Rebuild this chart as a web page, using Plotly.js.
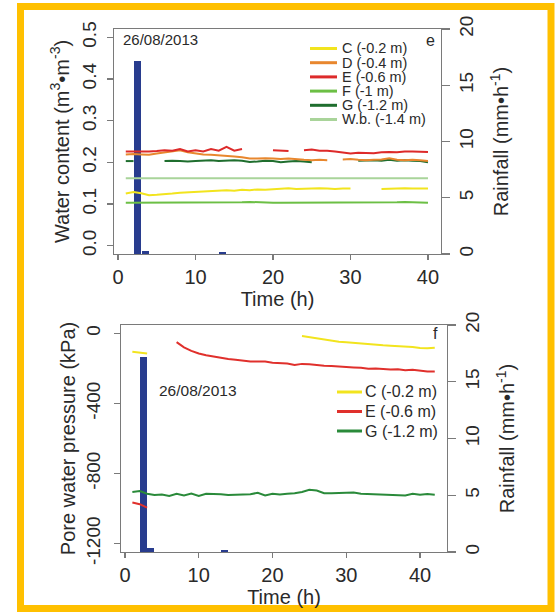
<!DOCTYPE html>
<html>
<head>
<meta charset="utf-8">
<script src="https://cdn.plot.ly/plotly-3.0.1.min.js"></script>
<style>
html,body{margin:0;padding:0;background:#fff;}
#chart{width:555px;height:612px;}
</style>
</head>
<body>
<div id="chart"></div>
<script>
// ---------- DATA ----------
const timeTop = [1,2,3,4,5,6,7,8,9,10,11,12,13,14,15,16,17,18,19,20,21,22,23,24,25,26,27,28,29,30,31,32,33,34,35,36,37,38,39,40];
const wcC = [0.125,0.129,0.126,0.121,0.122,0.123,0.125,0.127,0.128,0.129,0.130,0.130,0.131,0.133,0.132,0.134,0.133,0.135,0.134,0.135,0.136,0.138,0.136,0.137,0.137,0.138,0.137,0.136,0.137,0.137,null,null,null,0.136,0.137,0.137,0.138,0.137,0.137,0.137];
const wcD = [0.219,0.220,0.219,0.218,0.221,0.224,0.227,0.229,0.224,0.221,0.219,0.218,0.217,0.216,0.214,0.212,0.209,0.209,0.210,0.209,0.208,0.209,0.207,0.206,0.205,0.206,0.205,null,0.207,0.208,0.206,0.205,0.206,0.207,0.210,0.206,0.205,0.206,0.205,0.203];
const wcE = [0.226,0.226,0.225,0.226,0.227,0.229,0.228,0.232,0.226,0.229,0.226,0.232,0.228,0.237,0.228,0.232,null,null,null,0.229,0.228,0.227,null,0.229,0.231,0.228,0.228,0.226,0.224,0.221,0.223,0.222,0.222,0.224,0.225,0.224,0.226,0.226,0.226,0.225];
const wcF = [0.103,0.103,0.103,0.103,0.103,0.103,0.103,0.103,0.103,0.103,0.103,0.103,0.103,0.103,0.103,0.104,0.105,0.104,0.103,0.103,0.103,0.103,0.103,0.103,0.103,0.103,0.103,0.103,0.103,0.103,0.103,0.103,0.103,0.103,0.104,0.104,0.105,0.104,0.103,0.103];
const wcG = [0.203,0.203,null,null,null,0.203,0.204,0.203,0.202,0.203,0.204,0.205,0.203,0.204,0.205,0.204,0.201,0.202,0.204,0.203,0.200,0.202,0.203,0.202,0.200,null,null,null,null,null,0.204,0.205,0.205,0.204,0.206,0.204,0.205,0.204,0.203,0.200];
const wcWb = [0.162,0.162,0.162,0.162,0.162,0.162,0.162,0.162,0.162,0.162,0.162,0.162,0.162,0.162,0.162,0.162,0.162,0.162,0.162,0.162,0.162,0.162,0.162,0.162,0.162,0.162,0.162,0.162,0.162,0.162,0.162,0.162,0.162,0.162,0.162,0.162,0.162,0.162,0.162,0.162];

const timeBottom = [1,2,3,4,5,6,7,8,9,10,11,12,13,14,15,16,17,18,19,20,21,22,23,24,25,26,27,28,29,30,31,32,33,34,35,36,37,38,39,40,41,42];
const pwpC = [-105,-108,-115,null,null,null,null,null,null,null,null,null,null,null,null,null,null,null,null,null,null,null,null,-15,-22,-28,-36,-42,-47,-51,-55,-59,-62,-65,-68,-70,-72,-74,-77,-83,-85,-82];
const pwpE = [-965,-975,-995,null,null,null,-50,-80,-100,-115,-125,-133,-140,-146,-150,-157,-160,-160,-161,-167,-170,-172,-180,-174,-176,-182,-184,-186,-190,-192,-194,-196,-202,-200,-204,-206,-205,-210,-208,-215,-218,-217];
const pwpG = [-905,-900,-915,-922,-920,-928,-915,-925,-914,-928,-915,-915,-918,-922,-920,-917,-918,-910,-925,-915,-920,-916,-913,-905,-893,-897,-912,-913,-912,-914,-909,-915,-916,-920,-921,-923,-920,-925,-915,-921,-917,-921];

const rainTime = [2.5, 3.5, 13.5];
const rainTop = [17.2, 0.3, 0.15];
const rainBottom = [17.2, 0.35, 0.15];

const topNames = ['C (-0.2 m)','D (-0.4 m)','E (-0.6 m)','F (-1 m)','G (-1.2 m)','W.b. (-1.4 m)'];
const bottomNames = ['C (-0.2 m)','E (-0.6 m)','G (-1.2 m)'];
const wcTickVals = [0,0.1,0.2,0.3,0.4,0.5];
const pwpTickVals = [0,-400,-800,-1200];
const pwpTickText = ['0','-400','-800','-1200'];
const rainTickVals = [0,5,10,15,20];
const timeTickVals = [0,10,20,30,40];
const dateLabel = '26/08/2013';

// ---------- STYLE ----------
const W = 555, H = 612;
const px = v => v / W;
const py = v => 1 - v / H;
const topColors = ['#F2E41E','#E8872E','#DD2A2A','#6CBF45','#1F6E2E','#A9D49A'];
const bottomColors = ['#F2E41E','#E0302C','#2A8A3A'];
const barColor = '#283C8E';
const axisCol = '#7a7a7a';
const txtCol = '#2a2a2a';
const FONT = 'Liberation Sans, Arial, sans-serif';

const topSeries = [wcC, wcD, wcE, wcF, wcG, wcWb];
const bottomSeries = [pwpC, pwpE, pwpG];

const traces = [];
traces.push({type:'bar', x:rainTime, y:rainTop, width:0.9, marker:{color:barColor, line:{width:0}}, xaxis:'x', yaxis:'y', showlegend:false, hoverinfo:'skip'});
const topOrder = [5,3,0,4,1,2];
topOrder.forEach(i => traces.push({type:'scatter', mode:'lines', x:timeTop, y:topSeries[i], name:topNames[i], line:{color:topColors[i], width:2}, connectgaps:false, xaxis:'x', yaxis:'y2', showlegend:false}));
traces.push({type:'bar', x:rainTime, y:rainBottom, width:0.9, marker:{color:barColor, line:{width:0}}, xaxis:'x2', yaxis:'y3', showlegend:false, hoverinfo:'skip'});
bottomSeries.forEach((s,i) => traces.push({type:'scatter', mode:'lines', x:timeBottom, y:s, name:bottomNames[i], line:{color:bottomColors[i], width:2}, connectgaps:false, xaxis:'x2', yaxis:'y4', showlegend:false}));

const tickFont = {family:FONT, size:19, color:txtCol};
const xTickFont = {family:FONT, size:20, color:txtCol};
const titleFont = {family:FONT, size:20, color:txtCol};
const common = {showgrid:false, zeroline:false, showline:true, linecolor:axisCol, linewidth:1.3, ticks:'outside', tickcolor:axisCol, tickwidth:1.3, tickfont:tickFont, fixedrange:true};

const shapes = [];
const annotations = [];
// frame
shapes.push({type:'rect', xref:'paper', yref:'paper', x0:px(20.5), x1:px(551), y0:py(608.5), y1:py(6.5), line:{color:'#FFC000', width:7}, fillcolor:'rgba(0,0,0,0)'});

// top legend
topNames.forEach((n,i) => {
  const y = 48.5 + i*14.2;
  shapes.push({type:'line', xref:'paper', yref:'paper', x0:px(310), x1:px(337), y0:py(y), y1:py(y), line:{color:topColors[i], width:3}});
  annotations.push({xref:'paper', yref:'paper', x:px(341), y:py(y), xanchor:'left', yanchor:'middle', text:n, showarrow:false, borderpad:0, font:{family:FONT, size:14.5, color:txtCol}});
});
// bottom legend
bottomNames.forEach((n,i) => {
  const y = 392 + i*19.5;
  shapes.push({type:'line', xref:'paper', yref:'paper', x0:px(337), x1:px(362), y0:py(y), y1:py(y), line:{color:bottomColors[i], width:3}});
  annotations.push({xref:'paper', yref:'paper', x:px(364), y:py(y), xanchor:'left', yanchor:'middle', text:n, showarrow:false, borderpad:0, font:{family:FONT, size:16, color:txtCol}});
});
annotations.push({xref:'paper', yref:'paper', x:px(160), y:py(40), xanchor:'center', yanchor:'middle', text:dateLabel, showarrow:false, font:{family:FONT, size:15, color:txtCol}});
annotations.push({xref:'paper', yref:'paper', x:px(198), y:py(391), xanchor:'center', yanchor:'middle', text:dateLabel, showarrow:false, font:{family:FONT, size:15.5, color:txtCol}});
annotations.push({xref:'paper', yref:'paper', x:px(430), y:py(41), xanchor:'center', yanchor:'middle', text:'e', showarrow:false, font:{family:FONT, size:16, color:txtCol}});
annotations.push({xref:'paper', yref:'paper', x:px(435), y:py(334), xanchor:'center', yanchor:'middle', text:'f', showarrow:false, font:{family:FONT, size:16, color:txtCol}});

const layout = {
  width:W, height:H,
  margin:{l:0, r:0, t:0, b:0, pad:0},
  paper_bgcolor:'#fff', plot_bgcolor:'rgba(0,0,0,0)',
  font:{family:FONT, color:txtCol},
  showlegend:false,
  bargap:0,
  xaxis: Object.assign({}, common, {domain:[px(114), px(441)], range:[-0.52, 41.68], anchor:'y', tickvals:timeTickVals, ticklen:5, mirror:true, tickfont:xTickFont, title:{text:'Time (h)', font:titleFont, standoff:2}}),
  yaxis: Object.assign({}, common, {domain:[py(254), py(29)], range:[0,20], side:'right', anchor:'x', tickvals:rainTickVals, ticklen:8, tickangle:-90, ticklabelstandoff:0, title:{text:'Rainfall (mm•h<sup>-1</sup>)', font:titleFont, standoff:18}}),
  yaxis2: Object.assign({}, common, {overlaying:'y', side:'left', anchor:'x', range:[-0.02, 0.52], tickvals:wcTickVals, tickformat:'.1f', ticklen:6, tickangle:-90, ticklabelstandoff:3, title:{text:'Water content (m<sup>3</sup>•m<sup>-3</sup>)', font:titleFont, standoff:4}}),
  xaxis2: Object.assign({}, common, {domain:[px(121), px(447)], range:[-0.54, 43.66], anchor:'y3', tickvals:timeTickVals, ticklen:5, mirror:true, tickfont:xTickFont, title:{text:'Time (h)', font:titleFont, standoff:3}}),
  yaxis3: Object.assign({}, common, {domain:[py(552), py(325)], range:[0,20], side:'right', anchor:'x2', tickvals:rainTickVals, ticklen:8, tickangle:-90, ticklabelstandoff:0, title:{text:'Rainfall (mm•h<sup>-1</sup>)', font:titleFont, standoff:18}}),
  yaxis4: Object.assign({}, common, {overlaying:'y3', side:'left', anchor:'x2', range:[-1248, 48], tickvals:pwpTickVals, ticktext:pwpTickText, ticklen:6, tickangle:-90, ticklabelstandoff:6, title:{text:'Pore water pressure (kPa)', font:titleFont, standoff:2}}),
  shapes: shapes,
  annotations: annotations
};

Plotly.newPlot('chart', traces, layout, {staticPlot:true, displayModeBar:false});
</script>
</body>
</html>
